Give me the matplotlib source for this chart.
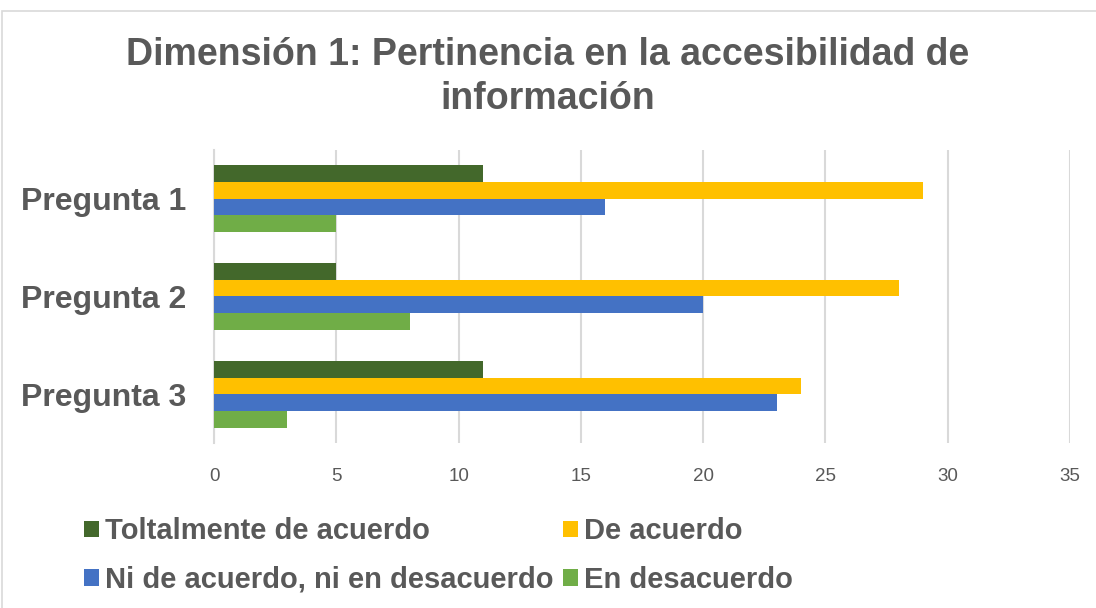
import matplotlib.pyplot as plt
import numpy as np
from matplotlib.patches import Rectangle

plt.rcParams["font.family"] = ["Liberation Sans", "DejaVu Sans"]

preguntas = ["Pregunta 1", "Pregunta 2", "Pregunta 3"]
series = ["Toltalmente de acuerdo", "De acuerdo",
          "Ni de acuerdo, ni en desacuerdo", "En desacuerdo"]
totalmente = [11, 5, 11]
de_acuerdo = [29, 28, 24]
ni_ni = [16, 20, 23]
desacuerdo = [5, 8, 3]
colores = ["#43682B", "#FFC000", "#4472C4", "#70AD47"]

gris = "#595959"

fig = plt.figure(figsize=(10.96, 6.08), dpi=100)
ax = fig.add_axes([214 / 1096, 1 - 443 / 608, (1070 - 214) / 1096, (443 - 150) / 608])

y = np.arange(len(preguntas))
h = 0.173
valores = [totalmente, de_acuerdo, ni_ni, desacuerdo]
barras = []
for i, (vals, nombre, c) in enumerate(zip(valores, series, colores)):
    b = ax.barh(y + (i - 1.5) * h, vals, height=h, color=c, label=nombre, zorder=3)
    barras.append(b)

ax.set_xlim(0, 35)
ax.set_ylim(2.495, -0.495)
ax.set_xticks(range(0, 36, 5))
ax.set_yticks(y)
ax.set_yticklabels(preguntas, fontsize=23, fontweight="bold", color=gris)
ax.tick_params(axis="x", length=0, labelsize=13.5, colors=gris, pad=18)
ax.tick_params(axis="y", length=0, pad=20)
ax.grid(axis="x", color="#D9D9D9", linewidth=1.5, zorder=0)
for s in ["top", "right", "bottom"]:
    ax.spines[s].set_visible(False)
ax.spines["left"].set_color("#D9D9D9")
ax.spines["left"].set_linewidth(1.5)

fig.text(0.5, 1 - 77 / 608, "Dimensión 1: Pertinencia en la accesibilidad de\ninformación",
         ha="center", va="center", fontsize=27, fontweight="bold", color=gris,
         linespacing=1.3)

# Excel llena la leyenda por filas; matplotlib por columnas
orden = [0, 2, 1, 3]
fig.legend([barras[k] for k in orden], [series[k] for k in orden], ncol=2,
           loc="upper left", bbox_to_anchor=(58 / 1096, 1 - 491 / 608),
           frameon=False, prop={"size": 21, "weight": "bold"}, labelcolor=gris,
           handlelength=0.5, handleheight=0.5, handletextpad=0.2,
           columnspacing=0.35, labelspacing=0.7)

fig.patches.append(Rectangle((2 / 1096, -0.01), 1.1, 1 - 11 / 608 + 0.01,
                             transform=fig.transFigure, fill=False,
                             edgecolor="#D9D9D9", linewidth=1.2))

fig.savefig("out.png", dpi=100)
